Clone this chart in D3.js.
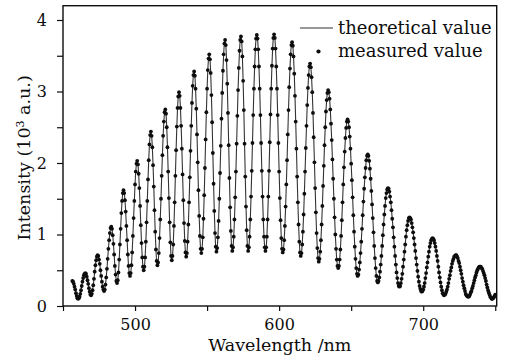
<!DOCTYPE html>
<html>
<head>
<meta charset="utf-8">
<script src="https://cdn.jsdelivr.net/npm/d3@7/dist/d3.min.js"></script>
<style>
  body { margin: 0; background: #fff; }
  svg { display: block; font-family: "DejaVu Serif", serif; }
</style>
</head>
<body>
<div id="rootDiv"></div>
<script>
// spectrum, one sample every 0.5 nm starting at 456.5 nm (units: 10^3 a.u.)
const wlStart = 456.5
const wlStep = 0.5
const measured = [
    0.35, 0.34, 0.31, 0.27, 0.23, 0.18, 0.14, 0.11, 0.10,
    0.11, 0.13, 0.17, 0.22, 0.28, 0.34, 0.39, 0.43, 0.45, 0.46,
    0.45, 0.41, 0.36, 0.31, 0.25, 0.20, 0.16, 0.15,
    0.17, 0.22, 0.29, 0.38, 0.48, 0.57, 0.64, 0.69, 0.71,
    0.70, 0.65, 0.59, 0.50, 0.42, 0.34, 0.27, 0.23, 0.21,
    0.23, 0.30, 0.40, 0.52, 0.66, 0.80, 0.92, 1.02, 1.09, 1.11,
    1.08, 0.99, 0.87, 0.72, 0.56, 0.44, 0.35, 0.32,
    0.36, 0.47, 0.65, 0.86, 1.08, 1.30, 1.47, 1.58, 1.62,
    1.58, 1.48, 1.32, 1.12, 0.92, 0.72, 0.56, 0.46, 0.42,
    0.46, 0.57, 0.75, 0.98, 1.23, 1.47, 1.70, 1.88, 1.99, 2.03,
    1.98, 1.85, 1.65, 1.40, 1.13, 0.88, 0.68, 0.55, 0.50,
    0.55, 0.68, 0.90, 1.17, 1.47, 1.77, 2.04, 2.26, 2.39, 2.44,
    2.38, 2.22, 1.97, 1.67, 1.34, 1.04, 0.79, 0.63, 0.57,
    0.61, 0.74, 0.95, 1.21, 1.50, 1.82, 2.11, 2.38, 2.58, 2.71, 2.75,
    2.69, 2.50, 2.22, 1.88, 1.51, 1.17, 0.89, 0.70, 0.64,
    0.70, 0.86, 1.12, 1.45, 1.82, 2.18, 2.51, 2.77, 2.93, 2.99,
    2.94, 2.77, 2.52, 2.20, 1.84, 1.48, 1.16, 0.91, 0.75, 0.69,
    0.74, 0.90, 1.14, 1.45, 1.80, 2.17, 2.52, 2.84, 3.08, 3.23, 3.28,
    3.22, 3.04, 2.76, 2.40, 2.01, 1.62, 1.26, 0.98, 0.80, 0.74,
    0.80, 0.96, 1.22, 1.55, 1.93, 2.33, 2.71, 3.04, 3.30, 3.46, 3.52,
    3.45, 3.26, 2.95, 2.57, 2.14, 1.71, 1.33, 1.02, 0.83, 0.76,
    0.81, 0.96, 1.19, 1.50, 1.86, 2.24, 2.62, 2.98, 3.29, 3.52, 3.67, 3.72,
    3.65, 3.44, 3.11, 2.70, 2.25, 1.79, 1.38, 1.05, 0.84, 0.77,
    0.82, 0.97, 1.21, 1.52, 1.88, 2.27, 2.66, 3.02, 3.33, 3.57, 3.72, 3.77,
    3.70, 3.49, 3.15, 2.74, 2.27, 1.81, 1.39, 1.06, 0.84, 0.77,
    0.82, 0.97, 1.21, 1.53, 1.89, 2.28, 2.67, 3.04, 3.35, 3.59, 3.74, 3.79,
    3.74, 3.59, 3.35, 3.04, 2.67, 2.28, 1.89, 1.53, 1.21, 0.97, 0.82, 0.77,
    0.82, 0.97, 1.21, 1.53, 1.89, 2.29, 2.68, 3.04, 3.36, 3.60, 3.75, 3.80,
    3.75, 3.60, 3.35, 3.04, 2.67, 2.28, 1.88, 1.51, 1.20, 0.95, 0.80, 0.75,
    0.79, 0.92, 1.12, 1.39, 1.70, 2.04, 2.40, 2.74, 3.06, 3.32, 3.52, 3.65, 3.69,
    3.64, 3.49, 3.25, 2.94, 2.58, 2.20, 1.81, 1.45, 1.14, 0.90, 0.75, 0.70,
    0.74, 0.86, 1.04, 1.28, 1.57, 1.88, 2.21, 2.52, 2.81, 3.05, 3.23, 3.35, 3.39,
    3.34, 3.20, 2.99, 2.70, 2.36, 2.01, 1.65, 1.31, 1.02, 0.81, 0.67, 0.62,
    0.66, 0.76, 0.92, 1.14, 1.40, 1.68, 1.96, 2.25, 2.50, 2.72, 2.88, 2.98, 3.02,
    2.99, 2.90, 2.75, 2.55, 2.32, 2.05, 1.78, 1.50, 1.24, 1.00, 0.80, 0.65, 0.56, 0.53,
    0.56, 0.65, 0.79, 0.98, 1.20, 1.45, 1.70, 1.94, 2.16, 2.35, 2.49, 2.58, 2.61,
    2.58, 2.50, 2.37, 2.20, 1.99, 1.76, 1.52, 1.27, 1.04, 0.83, 0.66, 0.53, 0.45, 0.42,
    0.44, 0.51, 0.61, 0.74, 0.90, 1.08, 1.27, 1.46, 1.64, 1.80, 1.93, 2.04, 2.10, 2.12,
    2.10, 2.03, 1.92, 1.78, 1.61, 1.42, 1.23, 1.03, 0.84, 0.67, 0.53, 0.42, 0.35, 0.33,
    0.35, 0.40, 0.48, 0.58, 0.70, 0.84, 0.99, 1.14, 1.28, 1.40, 1.51, 1.58, 1.63, 1.65,
    1.64, 1.60, 1.53, 1.45, 1.34, 1.22, 1.10, 0.96, 0.83, 0.70, 0.58, 0.47, 0.39, 0.32, 0.28, 0.27,
    0.28, 0.32, 0.38, 0.45, 0.55, 0.65, 0.76, 0.86, 0.97, 1.06, 1.13, 1.19, 1.23, 1.24,
    1.23, 1.21, 1.16, 1.10, 1.03, 0.95, 0.86, 0.77, 0.67, 0.58, 0.49, 0.41, 0.34, 0.28, 0.24, 0.21, 0.20,
    0.21, 0.23, 0.27, 0.32, 0.39, 0.46, 0.54, 0.61, 0.69, 0.76, 0.83, 0.88, 0.92, 0.94, 0.95,
    0.94, 0.92, 0.88, 0.83, 0.77, 0.70, 0.63, 0.55, 0.47, 0.40, 0.33, 0.27, 0.22, 0.18, 0.16, 0.15,
    0.16, 0.17, 0.20, 0.23, 0.27, 0.32, 0.38, 0.43, 0.49, 0.54, 0.59, 0.63, 0.66, 0.69, 0.70, 0.71,
    0.71, 0.69, 0.67, 0.63, 0.60, 0.55, 0.50, 0.45, 0.39, 0.34, 0.29, 0.25, 0.21, 0.17, 0.15, 0.14, 0.13,
    0.13, 0.14, 0.16, 0.19, 0.21, 0.25, 0.28, 0.32, 0.36, 0.40, 0.43, 0.47, 0.50, 0.52, 0.54, 0.55, 0.55,
    0.55, 0.53, 0.52, 0.49, 0.46, 0.43, 0.39, 0.35, 0.30, 0.26, 0.22, 0.19, 0.16, 0.13, 0.12, 0.10, 0.10,
    0.11, 0.12, 0.14, 0.16
]

const xMajor = [500, 600, 700]
const xMinor = [450, 550, 650, 750]
const yMajor = [0, 1, 2, 3, 4]
const yMinor = [0.5, 1.5, 2.5, 3.5]
const legendLabels = ["theoretical value", "measured value"]

// Dimensions
const W = 509, H = 361
const margin = { top: 5.7, right: 12.3, bottom: 55, left: 63 }
const ink = "#0d0d0d"

const x = d3.scaleLinear().domain([450, 751]).range([margin.left, W - margin.right])
const y = d3.scaleLinear().domain([0, 4.2]).range([H - margin.bottom, margin.top])

const points = measured.map((v, i) => ({ wl: wlStart + i * wlStep, v: v }))

const svg = d3.select("#rootDiv").append("svg")
    .attr("width", W)
    .attr("height", H)

// theoretical curve
svg.append("path")
    .datum(points)
    .attr("fill", "none")
    .attr("stroke", "#333")
    .attr("stroke-width", 1.1)
    .attr("d", d3.line().x(d => x(d.wl)).y(d => y(d.v)).curve(d3.curveMonotoneX))

// measured dots
svg.append("g")
    .attr("fill", ink)
    .selectAll("circle")
    .data(points)
    .enter()
    .append("circle")
    .attr("cx", d => x(d.wl))
    .attr("cy", d => y(d.v))
    .attr("r", 1.9)

// axes
const xAxis = svg.append("g")
    .attr("transform", `translate(0,${H - margin.bottom})`)
    .call(d3.axisBottom(x)
        .tickValues(xMajor.concat(xMinor))
        .tickFormat(d => xMajor.includes(d) ? d : "")
        .tickSize(5)
        .tickPadding(8))

const yAxis = svg.append("g")
    .attr("transform", `translate(${margin.left},0)`)
    .call(d3.axisLeft(y)
        .tickValues(yMajor.concat(yMinor))
        .tickFormat(d => yMajor.includes(d) ? d : "")
        .tickSize(6)
        .tickPadding(10))

for (const axis of [xAxis, yAxis]) {
    axis.select(".domain").remove()
    axis.selectAll("line").attr("stroke", ink).attr("stroke-width", 1.2)
    axis.selectAll("text")
        .attr("fill", ink)
        .style("font-family", "DejaVu Serif")
        .style("font-size", "16px")
}

// frame
svg.append("rect")
    .attr("x", x.range()[0])
    .attr("y", y.range()[1])
    .attr("width", x.range()[1] - x.range()[0])
    .attr("height", y.range()[0] - y.range()[1])
    .attr("fill", "none")
    .attr("stroke", ink)
    .attr("stroke-width", 1.4)

// axis titles
svg.append("text")
    .attr("x", (x.range()[0] + x.range()[1]) / 2)
    .attr("y", 351)
    .attr("text-anchor", "middle")
    .attr("fill", ink)
    .style("font-size", "17.5px")
    .text("Wavelength /nm")

const yTitle = svg.append("text")
    .attr("transform", `translate(30,${(y.range()[0] + y.range()[1]) / 2 + 2}) rotate(-90)`)
    .attr("text-anchor", "middle")
    .attr("fill", ink)
    .style("font-size", "17.5px")
yTitle.append("tspan").text("Intensity (10")
yTitle.append("tspan").attr("dy", -6).style("font-size", "11px").text("3")
yTitle.append("tspan").attr("dy", 6).text(" a.u.)")

// legend
const legend = svg.append("g").attr("fill", ink).style("font-size", "18px")
legend.append("line")
    .attr("x1", 300).attr("x2", 333)
    .attr("y1", 28).attr("y2", 28)
    .attr("stroke", "#333")
    .attr("stroke-width", 1.1)
legend.append("circle")
    .attr("cx", 318.5).attr("cy", 51.5).attr("r", 2.1)
legend.selectAll("text.lbl")
    .data(legendLabels)
    .enter()
    .append("text")
    .attr("class", "lbl")
    .attr("x", 338)
    .attr("y", (d, i) => 33.5 + i * 23.5)
    .text(d => d)
</script>
</body>
</html>
